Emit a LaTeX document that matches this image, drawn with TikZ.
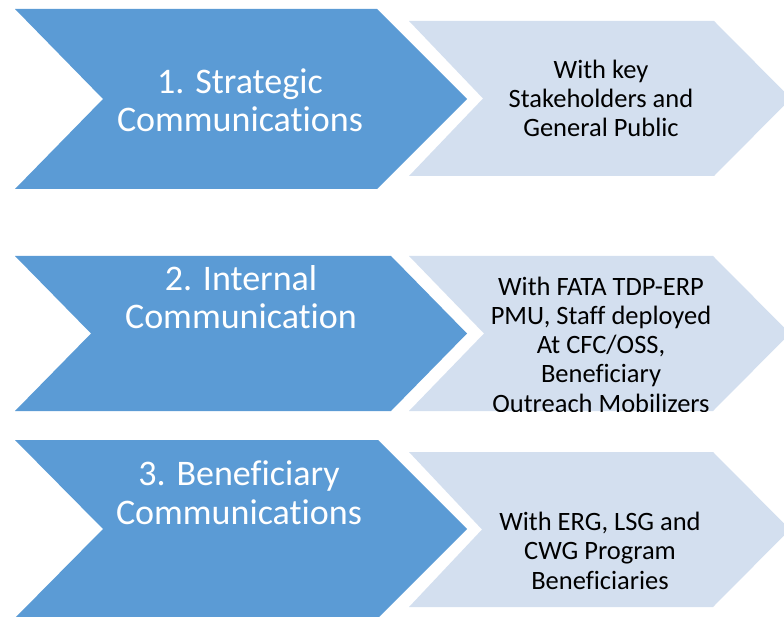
\documentclass[tikz,border=0pt]{standalone}
\usepackage{fontspec}
\setmainfont{Carlito}[Ligatures=NoCommon]
\usepackage{tikz}

\definecolor{stageblue}{HTML}{5B9BD5}
\definecolor{pale}{HTML}{D3DFEF}

\begin{document}
\begin{tikzpicture}[x=1pt,y=-1pt,
    stage/.style={font=\fontsize{36}{38.5}\selectfont, text=white, align=center, anchor=base, inner sep=0pt},
    target/.style={font=\fontsize{26.5}{29.2}\selectfont, text=black, align=center, anchor=base, inner sep=0pt}]
    \useasboundingbox (0,0) rectangle (784,617);
    \clip (0,0) rectangle (784,617);
    % left chevrons
    \fill[stageblue] (15,9) -- (377,9) -- (467,99) -- (377,189) -- (15,189) -- (103,99) -- cycle;
    \fill[stageblue] (15,256) -- (391,256) -- (467,333.5) -- (391,411) -- (15,411) -- (91,333.5) -- cycle;
    \fill[stageblue] (15,440) -- (378,440) -- (467,529) -- (378,618) -- (15,618) -- (103,529) -- cycle;
    % right chevrons
    \fill[pale] (409,21) -- (714,21) -- (791,98.5) -- (714,176) -- (409,176) -- (483,98.5) -- cycle;
    \fill[pale] (409,256) -- (713,256) -- (790,333.5) -- (713,411) -- (409,411) -- (484,333.5) -- cycle;
    \fill[pale] (409,452) -- (713,452) -- (790,529.5) -- (713,607) -- (409,607) -- (482,529.5) -- cycle;
    % labels (base = last line)
    \node[stage] (strategic) at (240,132) {1. Strategic\\Communications};
    \node[stage] (internal) at (241,329) {2. Internal\\Communication};
    \node[stage] (beneficiary) at (239,524) {3. Beneficiary\\Communications};
    \node[target] (public) at (601,137) {With key\\Stakeholders and\\General Public};
    \begin{scope}
      \clip (409,256) rectangle (790,411);
      \node[target] (staff) at (601,412) {With FATA TDP-ERP\\PMU, Staff deployed\\At CFC/OSS,\\Beneficiary\\Outreach Mobilizers};
    \end{scope}
    \node[target] (programs) at (600,589) {With ERG, LSG and\\CWG Program\\Beneficiaries};
\end{tikzpicture}
\end{document}
